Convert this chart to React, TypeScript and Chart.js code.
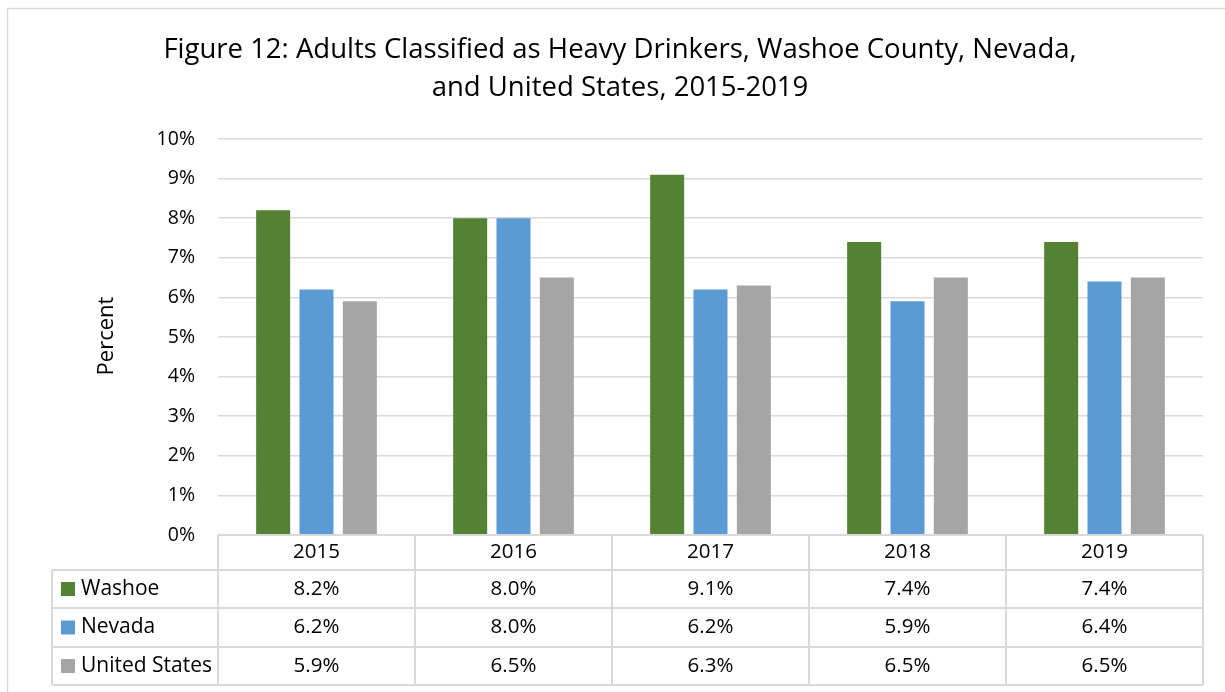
import React, { useEffect, useRef } from "react";
import { Chart, registerables } from "chart.js";

Chart.register(...registerables);

const categories = ["2015", "2016", "2017", "2018", "2019"];
const seriesNames = ["Washoe", "Nevada", "United States"];
const washoe = [8.2, 8.0, 9.1, 7.4, 7.4];
const nevada = [6.2, 8.0, 6.2, 5.9, 6.4];
const unitedStates = [5.9, 6.5, 6.3, 6.5, 6.5];
const seriesColors = ["#548235", "#5B9BD5", "#A5A5A5"];
const titleLines = [
  "Figure 12: Adults Classified as Heavy Drinkers, Washoe County, Nevada,",
  "and United States, 2015-2019",
];
const yTitle = "Percent";

const FONT = "'Open Sans', 'Noto Sans', sans-serif";
const GRID = "#D9D9D9";

const decorPlugin = {
  id: "decor",
  afterDraw(chart: any) {
    const ctx = chart.ctx;
    const area = chart.chartArea;
    const xs = chart.scales.x;
    const data = chart.data.datasets;
    ctx.save();
    // outer border
    ctx.strokeStyle = GRID;
    ctx.lineWidth = 1.5;
    ctx.strokeRect(7.5, 8.5, 1240, 700);

    // title
    ctx.fillStyle = "#000";
    ctx.font = `27.5px ${FONT}`;
    ctx.textAlign = "center";
    ctx.textBaseline = "middle";
    ctx.fillText(titleLines[0], 620, 50);
    ctx.fillText(titleLines[1], 620, 88);

    // y title
    ctx.save();
    ctx.translate(107, 336);
    ctx.rotate(-Math.PI / 2);
    ctx.font = `22px ${FONT}`;
    ctx.fillText(yTitle, 0, 0);
    ctx.restore();

    // data table
    const n = categories.length;
    const colW = (area.right - area.left) / n;
    const top = area.bottom;
    const rowYs = [top, 570, 608, 647, 685];
    const leftX = 52;
    ctx.strokeStyle = GRID;
    ctx.lineWidth = 2;
    ctx.beginPath();
    ctx.moveTo(area.left, rowYs[0]);
    ctx.lineTo(area.right, rowYs[0]);
    for (let r = 1; r < rowYs.length; r++) {
      ctx.moveTo(leftX, rowYs[r]);
      ctx.lineTo(area.right, rowYs[r]);
    }
    ctx.moveTo(leftX, rowYs[1]);
    ctx.lineTo(leftX, rowYs[4]);
    for (let i = 0; i <= n; i++) {
      const x = i < n ? xs.getPixelForValue(i) - colW / 2 : xs.getPixelForValue(n - 1) + colW / 2;
      ctx.moveTo(x, rowYs[0]);
      ctx.lineTo(x, rowYs[4]);
    }
    ctx.stroke();

    ctx.fillStyle = "#000";
    ctx.font = `20.5px ${FONT}`;
    ctx.textAlign = "center";
    for (let i = 0; i < n; i++) {
      const cx = xs.getPixelForValue(i);
      ctx.fillText(categories[i], cx, (rowYs[0] + rowYs[1]) / 2);
      for (let s = 0; s < data.length; s++) {
        const v = data[s].data[i];
        ctx.fillText(v.toFixed(1) + "%", cx, (rowYs[s + 1] + rowYs[s + 2]) / 2);
      }
    }
    ctx.textAlign = "left";
    ctx.font = `21px ${FONT}`;
    for (let s = 0; s < data.length; s++) {
      const cy = (rowYs[s + 1] + rowYs[s + 2]) / 2;
      ctx.fillStyle = seriesColors[s];
      ctx.fillRect(61, cy - 7, 14, 14);
      ctx.fillStyle = "#000";
      ctx.fillText(seriesNames[s], 81, cy);
    }
    ctx.restore();
  },
};

export default function App() {
  const ref = useRef<HTMLCanvasElement>(null);
  useEffect(() => {
    if (!ref.current) return;
    const values = [washoe, nevada, unitedStates];
    const chart = new Chart(ref.current, {
      type: "bar",
      data: {
        labels: categories,
        datasets: seriesNames.map((name, i) => ({
          label: name,
          data: values[i],
          backgroundColor: seriesColors[i],
          borderWidth: 0,
          categoryPercentage: 0.66,
          barPercentage: 0.785,
        })),
      },
      options: {
        animation: false,
        responsive: false,
        maintainAspectRatio: false,
        layout: { padding: { left: 0, top: 139, right: 22, bottom: 157 } },
        plugins: {
          legend: { display: false },
          title: { display: false },
          tooltip: { enabled: false },
        },
        scales: {
          x: { display: false },
          y: {
            min: 0,
            max: 10,
            afterFit: (scale: any) => {
              scale.width = 218;
            },
            ticks: {
              stepSize: 1,
              padding: 23,
              color: "#000",
              font: { family: FONT, size: 19.5 },
              callback: (v: any) => v + "%",
            },
            grid: { color: GRID, lineWidth: 1.5, drawTicks: false },
            border: { display: false },
          },
        },
      },
      plugins: [decorPlugin],
    });
    return () => chart.destroy();
  }, []);
  return (
    <div style={{ position: "absolute", left: 0, top: 0, width: 1225, height: 692, background: "#fff" }}>
      <canvas ref={ref} width={1225} height={692} style={{ display: "block" }} />
    </div>
  );
}
